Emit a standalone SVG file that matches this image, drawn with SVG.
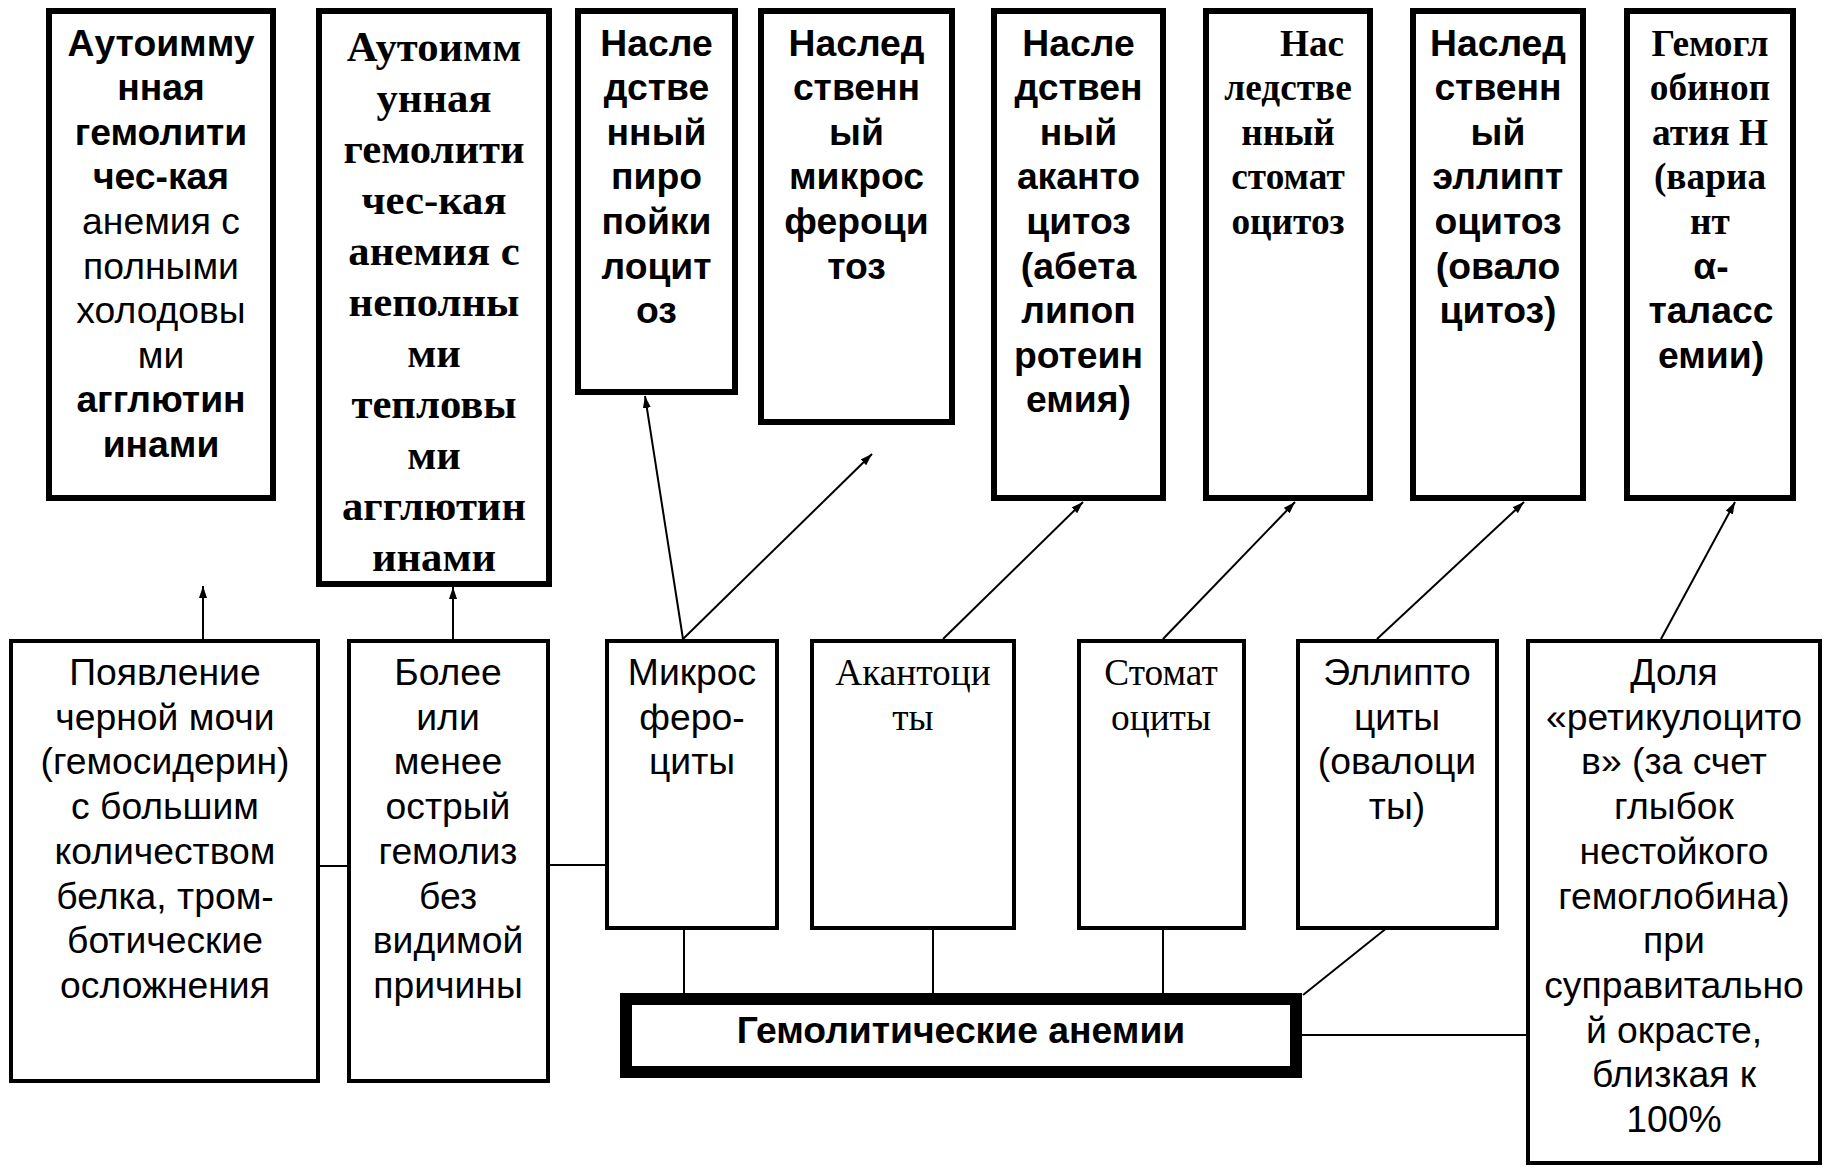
<svg xmlns="http://www.w3.org/2000/svg" width="1826" height="1168" viewBox="0 0 1826 1168">
<style>
.tb{fill:#fff;stroke:#000;stroke-width:6}
.bb{fill:#fff;stroke:#000;stroke-width:4}
.mb{fill:#fff;stroke:#000;stroke-width:12}
text{fill:#000;text-anchor:middle;font-size:37.3px}
.sb{font-family:"Liberation Sans",Arial,sans-serif;font-weight:bold}
.sr{font-family:"Liberation Sans",Arial,sans-serif;font-weight:normal}
.fb{font-family:"Liberation Serif","Times New Roman",serif;font-weight:bold}
.fr{font-family:"Liberation Serif","Times New Roman",serif;font-weight:normal}
.big{font-size:42.7px}
.c{fill:none;stroke:#000;stroke-width:2}
.a{marker-end:url(#ah)}
</style>
<defs>
<marker id="ah" viewBox="0 0 12 8" refX="12" refY="4" markerWidth="12" markerHeight="8" markerUnits="userSpaceOnUse" orient="auto">
<path d="M0,0 L12,4 L0,8 z" fill="#000"/>
</marker>
</defs>
<rect width="1826" height="1168" fill="#fff"/>

<g id="connectors">
<line class="c a" x1="203" y1="639" x2="203" y2="586"/>
<line class="c a" x1="453" y1="639" x2="453" y2="587"/>
<line class="c a" x1="683" y1="639" x2="645" y2="396"/>
<line class="c a" x1="683" y1="639" x2="872" y2="454"/>
<line class="c a" x1="943" y1="639" x2="1083" y2="502"/>
<line class="c a" x1="1163" y1="639" x2="1295" y2="502"/>
<line class="c a" x1="1377" y1="639" x2="1524" y2="502"/>
<line class="c a" x1="1661" y1="639" x2="1735" y2="502"/>
<line class="c" x1="320" y1="866" x2="376" y2="866"/>
<line class="c" x1="550" y1="865" x2="605" y2="865"/>
<line class="c" x1="684" y1="926" x2="684" y2="994"/>
<line class="c" x1="933" y1="926" x2="933" y2="994"/>
<line class="c" x1="1163" y1="926" x2="1163" y2="994"/>
<line class="c" x1="1393" y1="923" x2="1303" y2="995"/>
<line class="c" x1="1302" y1="1035" x2="1526" y2="1035"/>
</g>

<g id="n-autoimmune-cold">
<rect class="tb" x="49" y="11" width="224" height="487"/>
<text class="sb" x="161" y="55.5">Аутоимму</text>
<text class="sb" x="161" y="100">нная</text>
<text class="sb" x="161" y="144.7">гемолити</text>
<text class="sb" x="161" y="189.3">чес-кая</text>
<text class="sr" x="161" y="234">анемия с</text>
<text class="sr" x="161" y="278.6">полными</text>
<text class="sr" x="161" y="323.2">холодовы</text>
<text class="sr" x="161" y="367.8">ми</text>
<text class="sb" x="161" y="412.4">агглютин</text>
<text class="sb" x="161" y="457">инами</text>
</g>

<g id="n-autoimmune-warm">
<rect class="tb" x="319" y="11" width="230" height="573"/>
<text class="fb big" x="434" y="61">Аутоимм<tspan x="434" dy="51">унная</tspan><tspan x="434" dy="51">гемолити</tspan><tspan x="434" dy="51">чес-кая</tspan><tspan x="434" dy="51">анемия с</tspan><tspan x="434" dy="51">неполны</tspan><tspan x="434" dy="51">ми</tspan><tspan x="434" dy="51">тепловы</tspan><tspan x="434" dy="51">ми</tspan><tspan x="434" dy="51">агглютин</tspan><tspan x="434" dy="51">инами</tspan></text>
</g>

<g id="n-pyropoikilocytosis">
<rect class="tb" x="578" y="11" width="157" height="381"/>
<text class="sb" x="656.5" y="55.5">Насле<tspan x="656.5" dy="44.6">дстве</tspan><tspan x="656.5" dy="44.6">нный</tspan><tspan x="656.5" dy="44.6">пиро</tspan><tspan x="656.5" dy="44.6">пойки</tspan><tspan x="656.5" dy="44.6">лоцит</tspan><tspan x="656.5" dy="44.6">оз</tspan></text>
</g>

<g id="n-microspherocytosis">
<rect class="tb" x="761" y="11" width="191" height="411"/>
<text class="sb" x="856.5" y="55.5">Наслед<tspan x="856.5" dy="44.6">ственн</tspan><tspan x="856.5" dy="44.6">ый</tspan><tspan x="856.5" dy="44.6">микрос</tspan><tspan x="856.5" dy="44.6">фероци</tspan><tspan x="856.5" dy="44.6">тоз</tspan></text>
</g>

<g id="n-acanthocytosis">
<rect class="tb" x="994" y="11" width="169" height="487"/>
<text class="sb" x="1078.5" y="55.5">Насле<tspan x="1078.5" dy="44.6">дствен</tspan><tspan x="1078.5" dy="44.6">ный</tspan><tspan x="1078.5" dy="44.6">аканто</tspan><tspan x="1078.5" dy="44.6">цитоз</tspan><tspan x="1078.5" dy="44.6">(абета</tspan><tspan x="1078.5" dy="44.6">липоп</tspan><tspan x="1078.5" dy="44.6">ротеин</tspan><tspan x="1078.5" dy="44.6">емия)</tspan></text>
</g>

<g id="n-stomatocytosis">
<rect class="tb" x="1206" y="11" width="164" height="487"/>
<text class="fb" x="1312" y="55.5">Нас</text>
<text class="fb" x="1288" y="100.1">ледстве<tspan x="1288" dy="44.6">нный</tspan><tspan x="1288" dy="44.6">стомат</tspan><tspan x="1288" dy="44.6">оцитоз</tspan></text>
</g>

<g id="n-elliptocytosis">
<rect class="tb" x="1413" y="11" width="170" height="487"/>
<text class="sb" x="1498" y="55.5">Наслед<tspan x="1498" dy="44.6">ственн</tspan><tspan x="1498" dy="44.6">ый</tspan><tspan x="1498" dy="44.6">эллипт</tspan><tspan x="1498" dy="44.6">оцитоз</tspan><tspan x="1498" dy="44.6">(овало</tspan><tspan x="1498" dy="44.6">цитоз)</tspan></text>
</g>

<g id="n-hemoglobinopathy-h">
<rect class="tb" x="1627" y="11" width="166" height="487"/>
<text class="fb" x="1710" y="55.5">Гемогл<tspan x="1710" dy="44.6">обиноп</tspan><tspan x="1710" dy="44.6">атия Н</tspan><tspan x="1710" dy="44.6">(вариа</tspan><tspan x="1710" dy="44.6">нт</tspan></text>
<text class="sb" x="1711" y="278.5">α-<tspan x="1711" dy="44.6">таласс</tspan><tspan x="1711" dy="44.6">емии)</tspan></text>
</g>

<g id="n-black-urine">
<rect class="bb" x="11" y="641" width="307" height="440"/>
<text class="sr" x="165" y="685">Появление<tspan x="165" dy="44.7">черной мочи</tspan><tspan x="165" dy="44.7">(гемосидерин)</tspan><tspan x="165" dy="44.7">с большим</tspan><tspan x="165" dy="44.7">количеством</tspan><tspan x="165" dy="44.7">белка, тром-</tspan><tspan x="165" dy="44.7">ботические</tspan><tspan x="165" dy="44.7">осложнения</tspan></text>
</g>

<g id="n-hemolysis">
<rect class="bb" x="349" y="641" width="199" height="440"/>
<text class="sr" x="448" y="685">Более<tspan x="448" dy="44.7">или</tspan><tspan x="448" dy="44.7">менее</tspan><tspan x="448" dy="44.7">острый</tspan><tspan x="448" dy="44.7">гемолиз</tspan><tspan x="448" dy="44.7">без</tspan><tspan x="448" dy="44.7">видимой</tspan><tspan x="448" dy="44.7">причины</tspan></text>
</g>

<g id="n-microspherocytes">
<rect class="bb" x="607" y="641" width="170" height="287"/>
<text class="sr" x="692" y="685">Микрос<tspan x="692" dy="44.7">феро-</tspan><tspan x="692" dy="44.7">циты</tspan></text>
</g>

<g id="n-acanthocytes">
<rect class="bb" x="812" y="641" width="202" height="287"/>
<text class="fr" x="913" y="685">Акантоци<tspan x="913" dy="44.7">ты</tspan></text>
</g>

<g id="n-stomatocytes">
<rect class="bb" x="1079" y="641" width="165" height="287"/>
<text class="fr" x="1161" y="685">Стомат<tspan x="1161" dy="44.7">оциты</tspan></text>
</g>

<g id="n-elliptocytes">
<rect class="bb" x="1298" y="641" width="199" height="287"/>
<text class="sr" x="1397" y="685">Эллипто<tspan x="1397" dy="44.7">циты</tspan><tspan x="1397" dy="44.7">(овалоци</tspan><tspan x="1397" dy="44.7">ты)</tspan></text>
</g>

<g id="n-reticulocytes">
<rect class="bb" x="1528" y="641" width="292" height="522"/>
<text class="sr" x="1674" y="685">Доля<tspan x="1674" dy="44.7">«ретикулоцито</tspan><tspan x="1674" dy="44.7">в» (за счет</tspan><tspan x="1674" dy="44.7">глыбок</tspan><tspan x="1674" dy="44.7">нестойкого</tspan><tspan x="1674" dy="44.7">гемоглобина)</tspan><tspan x="1674" dy="44.7">при</tspan><tspan x="1674" dy="44.7">суправитально</tspan><tspan x="1674" dy="44.7">й окрасте,</tspan><tspan x="1674" dy="44.7">близкая к</tspan><tspan x="1674" dy="44.7">100%</tspan></text>
</g>

<g id="n-main">
<rect class="mb" x="626" y="999" width="670" height="73"/>
<text class="sb" x="961" y="1043">Гемолитические анемии</text>
</g>
</svg>
